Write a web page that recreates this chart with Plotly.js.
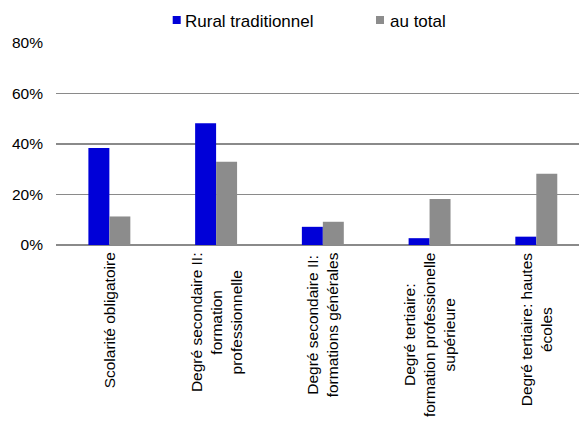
<!DOCTYPE html>
<html>
<head>
<meta charset="utf-8">
<script src="https://cdn.plot.ly/plotly-3.0.1.min.js"></script>
<style>html,body{margin:0;padding:0;background:#fff;}#chart{width:579px;height:421px;}</style>
</head>
<body>
<div id="chart"></div>
<script>
var categories = ["Scolarité obligatoire", "Degré secondaire II: formation professionnelle", "Degré secondaire II: formations générales", "Degré tertiaire: formation professionelle supérieure", "Degré tertiaire: hautes écoles"];
var categoryLabels = ["Scolarité obligatoire", "Degré secondaire II:<br>formation<br>professionnelle", "Degré secondaire II:<br>formations générales", "Degré tertiaire:<br>formation professionelle<br>supérieure", "Degré tertiaire: hautes<br>écoles"];
var seriesNames = ["Rural traditionnel", "au total"];
var ruralValues = [0.384, 0.482, 0.072, 0.027, 0.033];
var totalValues = [0.113, 0.330, 0.092, 0.182, 0.282];
var yTickVals = [0, 0.2, 0.4, 0.6, 0.8];
var yTickText = ["0%", "20%", "40%", "60%", "80%"];
var colors = ["#0000d8", "#8c8c8c"];

var FONT = "Liberation Sans, Arial, sans-serif";
var traces = [
  {type: "bar", name: seriesNames[0], x: categories, y: ruralValues, marker: {color: colors[0], line: {width: 0}}},
  {type: "bar", name: seriesNames[1], x: categories, y: totalValues, marker: {color: colors[1], line: {width: 0}}}
];

var annotations = categories.map(function (c, i) {
  return {x: c, xref: "x", y: 0, yref: "paper", yanchor: "top", xanchor: "center",
    yshift: -6, text: categoryLabels[i], textangle: -90, showarrow: false, align: "center",
    borderpad: 0, font: {family: FONT, size: 15.5, color: "#000"}};
});
// custom legend text
var legendX = [184, 388.5];
var legendSq = [172.7, 376];
var W = 579, L = 56, R = 0, PW = W - L - R;
var H = 421, T = 43, B = 176, PH = H - T - B;
function px2x(p) { return (p - L) / PW; }
function py2y(p) { return (H - B - p) / PH; }
var shapes = [];
for (var k = 0; k < 2; k++) {
  annotations.push({xref: "paper", yref: "paper", x: px2x(legendX[k]), y: py2y(21.5), xanchor: "left", yanchor: "middle",
    text: seriesNames[k], showarrow: false, borderpad: 0, font: {family: FONT, size: 17, color: "#000"}});
  shapes.push({type: "rect", xref: "paper", yref: "paper", x0: px2x(legendSq[k]), x1: px2x(legendSq[k] + 8),
    y0: py2y(24), y1: py2y(16), fillcolor: colors[k], line: {width: 0}});
}

var layout = {
  width: W, height: H,
  margin: {l: L, r: R, t: T, b: B, pad: 0},
  paper_bgcolor: "#fff", plot_bgcolor: "#fff",
  showlegend: false,
  barmode: "group", bargap: 0.607, bargroupgap: 0,
  font: {family: FONT, size: 15.5, color: "#000"},
  xaxis: {type: "category", range: [-0.5, 4.4], showticklabels: false, showgrid: false, zeroline: false, showline: false, ticks: ""},
  yaxis: {range: [0, 0.8], tickvals: yTickVals, ticktext: yTickText, showgrid: true, gridcolor: "#8a8a8a", gridwidth: 1.5,
    zeroline: true, zerolinecolor: "#8a8a8a", zerolinewidth: 1.5, showline: false, ticks: "", ticklabelstandoff: 12,
    tickfont: {family: FONT, size: 15.5, color: "#000"}},
  annotations: annotations,
  shapes: shapes
};
Plotly.newPlot("chart", traces, layout, {displayModeBar: false, staticPlot: true});
</script>
</body>
</html>
